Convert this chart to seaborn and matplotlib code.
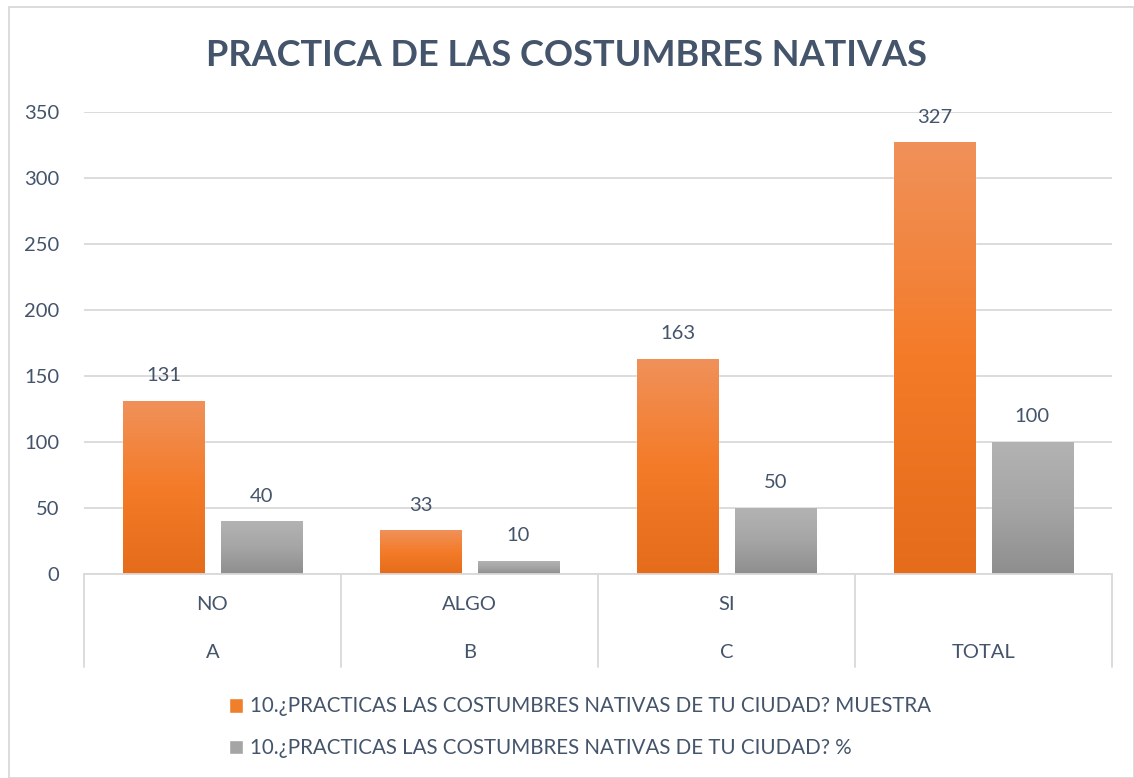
import numpy as np
import pandas as pd
import matplotlib
matplotlib.use("Agg")
import matplotlib.pyplot as plt
from matplotlib.colors import LinearSegmentedColormap
from matplotlib.patches import Rectangle
import seaborn as sns

# data
respuestas = ["NO", "ALGO", "SI", ""]
letras = ["A", "B", "C", "TOTAL"]
muestra = [131, 33, 163, 327]
porcentaje = [40, 10, 50, 100]
series = ["10.¿PRACTICAS LAS COSTUMBRES NATIVAS DE TU CIUDAD? MUESTRA",
          "10.¿PRACTICAS LAS COSTUMBRES NATIVAS DE TU CIUDAD? %"]

df = pd.DataFrame({
    "cat": letras * 2,
    "valor": muestra + porcentaje,
    "serie": [series[0]] * 4 + [series[1]] * 4,
})

sns.set_style("white")
plt.rcParams["font.family"] = ["Lato", "DejaVu Sans"]
txt = "#44546A"
grid = "#D9D9D9"

fig = plt.figure(figsize=(11.34, 7.78), dpi=100)
ax = fig.add_axes([84 / 1134, 1 - 574 / 778, 1028 / 1134, 462 / 778])

pal = {series[0]: "#F07F2C", series[1]: "#A5A5A5"}
sns.barplot(data=df, x="cat", y="valor", hue="serie", palette=pal,
            width=0.76, gap=0.17, ax=ax, legend=True, saturation=1)

ax.set_ylim(0, 350)
ax.set_xlim(-0.5, 3.5)
ax.set_yticks(range(0, 351, 50))
ax.yaxis.grid(True, color=grid, lw=1.3)
ax.set_axisbelow(True)
for s in ax.spines.values():
    s.set_visible(False)
ax.tick_params(axis="y", length=0, labelsize=14.5, labelcolor=txt, pad=18)
ax.set_xticks([])
ax.set_xlabel("")
ax.set_ylabel("")

# gradient fill on the bars
grads = {
    series[0]: LinearSegmentedColormap.from_list("o", ["#E46C1A", "#F47B28", "#F0915A"]),
    series[1]: LinearSegmentedColormap.from_list("g", ["#8E8E8E", "#A5A5A5", "#B3B3B3"]),
}
g = np.linspace(0, 1, 256).reshape(-1, 1)
for cont, name in zip(ax.containers, series):
    for p in cont.patches:
        x0, y0 = p.get_x(), p.get_y()
        w, h = p.get_width(), p.get_height()
        im = ax.imshow(g, cmap=grads[name], aspect="auto", origin="lower",
                       extent=[x0, x0 + w, y0, y0 + h], zorder=p.get_zorder())
        im.set_clip_path(p)
        p.set_facecolor("none")
    ax.bar_label(cont, padding=12, fontsize=14.5, color=txt)
ax.set_xlim(-0.5, 3.5)
ax.set_ylim(0, 350)

# category axis below
trans = ax.get_xaxis_transform()
ax.plot([-0.5, 3.5], [0, 0], transform=trans, color=grid, lw=1.3, clip_on=False)
for xb in [-0.5, 0.5, 1.5, 2.5, 3.5]:
    ax.plot([xb, xb], [0, -93 / 462], transform=trans, color=grid, lw=1.3, clip_on=False)
for i in range(4):
    ax.text(i, -30 / 462, respuestas[i], transform=trans, ha="center", va="center",
            fontsize=14.5, color=txt)
    ax.text(i, -78 / 462, letras[i], transform=trans, ha="center", va="center",
            fontsize=14.5, color=txt)

# legend
handles, labels = ax.get_legend_handles_labels()
ax.get_legend().remove()
fig.legend(handles, labels, loc="upper left", bbox_to_anchor=(210 / 1134, 1 - 678 / 778),
           frameon=False, fontsize=14.8, labelcolor=txt, handlelength=0.7,
           handleheight=0.7, handletextpad=0.35, labelspacing=1.05)

fig.suptitle("PRACTICA DE LAS COSTUMBRES NATIVAS", x=0.5, y=1 - 55 / 778, va="center",
             fontsize=26, fontweight="bold", color=txt)

fig.patches.append(Rectangle((9 / 1134, 0), 1 - 9 / 1134, 1 - 7 / 778,
                             transform=fig.transFigure, fill=False,
                             edgecolor=grid, lw=1.3))

fig.savefig("out.png", dpi=100)
